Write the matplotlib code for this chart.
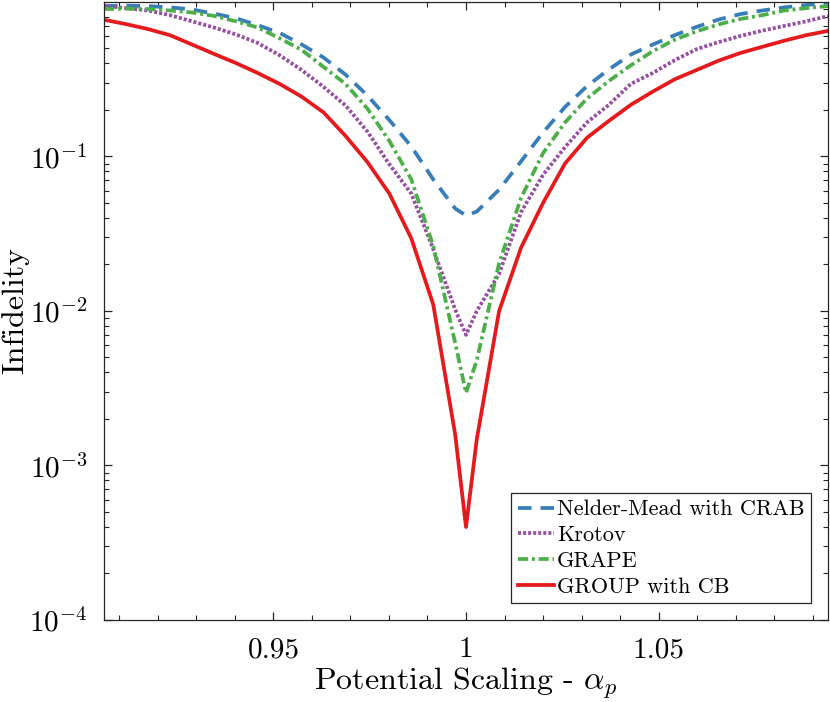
import matplotlib
matplotlib.use("Agg")
import matplotlib.pyplot as plt
from matplotlib.ticker import MultipleLocator, LogLocator, NullFormatter

plt.rcParams['font.family'] = 'serif'
plt.rcParams['font.serif'] = ['cmr10']
plt.rcParams['mathtext.fontset'] = 'cm'
plt.rcParams['axes.formatter.use_mathtext'] = True

# potential scaling values (x)
alpha = [0.906, 0.9117, 0.9174, 0.9231, 0.9288, 0.9345, 0.9402, 0.9459, 0.9516,
         0.9573, 0.963, 0.9687, 0.9744, 0.9801, 0.9858, 0.9915, 0.9972, 1.0,
         1.0028, 1.0086, 1.0143, 1.02, 1.0257, 1.0314, 1.0371, 1.0428, 1.0485,
         1.0542, 1.0599, 1.0656, 1.0713, 1.077, 1.0827, 1.0884, 1.094]

nelder_mead = [0.94, 0.946, 0.94, 0.923, 0.895, 0.841, 0.785, 0.708, 0.631,
               0.531, 0.437, 0.339, 0.248, 0.172, 0.116, 0.071, 0.046, 0.0415,
               0.0440, 0.061, 0.093, 0.143, 0.209, 0.285, 0.366, 0.457, 0.530,
               0.610, 0.69, 0.770, 0.835, 0.881, 0.923, 0.955, 0.99]

krotov = [0.944, 0.912, 0.881, 0.822, 0.750, 0.684, 0.617, 0.543, 0.452,
          0.363, 0.282, 0.214, 0.145, 0.089, 0.0575, 0.0251, 0.0102, 0.0070,
          0.010, 0.0174, 0.0437, 0.076, 0.115, 0.166, 0.216, 0.295, 0.347,
          0.42, 0.495, 0.55, 0.603, 0.653, 0.70, 0.75, 0.81]

grape = [0.90, 0.906, 0.90, 0.881, 0.855, 0.813, 0.75, 0.684, 0.582,
         0.49, 0.38, 0.295, 0.204, 0.126, 0.071, 0.0263, 0.0062, 0.00295,
         0.0048, 0.0204, 0.054, 0.105, 0.166, 0.237, 0.308, 0.389, 0.48,
         0.57, 0.646, 0.716, 0.776, 0.822, 0.881, 0.912, 0.94]

group_cb = [0.767, 0.719, 0.668, 0.610, 0.531, 0.462, 0.403, 0.347, 0.295,
            0.244, 0.193, 0.136, 0.092, 0.0575, 0.0295, 0.011, 0.00158, 0.00040,
            0.00148, 0.010, 0.0257, 0.050, 0.090, 0.132, 0.170, 0.216, 0.263,
            0.316, 0.363, 0.417, 0.468, 0.513, 0.562, 0.61, 0.65]

fig = plt.figure(figsize=(8.3, 7.02), dpi=100)
ax = fig.add_axes([0.1253, 0.1168, 0.8723, 0.8804])

lw = 2.7
ax.plot(alpha, nelder_mead, color='#377eb8', lw=lw, dashes=(3.6, 2.4),
        label='Nelder-Mead with CRAB')
ax.plot(alpha, krotov, color='#984ea3', lw=lw, dashes=(0.8, 0.55),
        label='Krotov')
ax.plot(alpha, grape, color='#4daf4a', lw=lw, dashes=(2.7, 1.0, 0.8, 1.0),
        label='GRAPE')
ax.plot(alpha, group_cb, color='#e41a1c', lw=lw, label='GROUP with CB')

ax.set_yscale('log')
ax.set_xlim(0.906, 1.094)
ax.set_ylim(1e-4, 1)
ax.set_yticks([1e-4, 1e-3, 1e-2, 1e-1])
ax.yaxis.set_minor_locator(LogLocator(base=10, subs=range(2, 10)))
ax.yaxis.set_minor_formatter(NullFormatter())
ax.set_xticks([0.95, 1.0, 1.05])
ax.set_xticklabels(['0.95', '1', '1.05'])
ax.xaxis.set_minor_locator(MultipleLocator(0.01))

ax.tick_params(which='both', direction='in', top=True, right=True,
               colors='#262626', labelcolor='black', labelsize=21)
ax.tick_params(which='major', length=6, width=0.9, pad=12)
ax.tick_params(which='minor', length=3.5, width=0.8)
for s in ax.spines.values():
    s.set_color('#262626')
    s.set_linewidth(0.9)

ax.set_xlabel(r'Potential Scaling - $\alpha_p$', fontsize=23, labelpad=2)
ax.set_ylabel('Infidelity', fontsize=23, labelpad=0)

leg = ax.legend(loc='lower right', fontsize=16, fancybox=False, framealpha=1,
                edgecolor='#262626', borderpad=0.3, handlelength=1.6,
                handletextpad=0.15, labelspacing=0.28, borderaxespad=0.75)
leg.get_frame().set_linewidth(0.9)

fig.savefig('out.png', dpi=100)
